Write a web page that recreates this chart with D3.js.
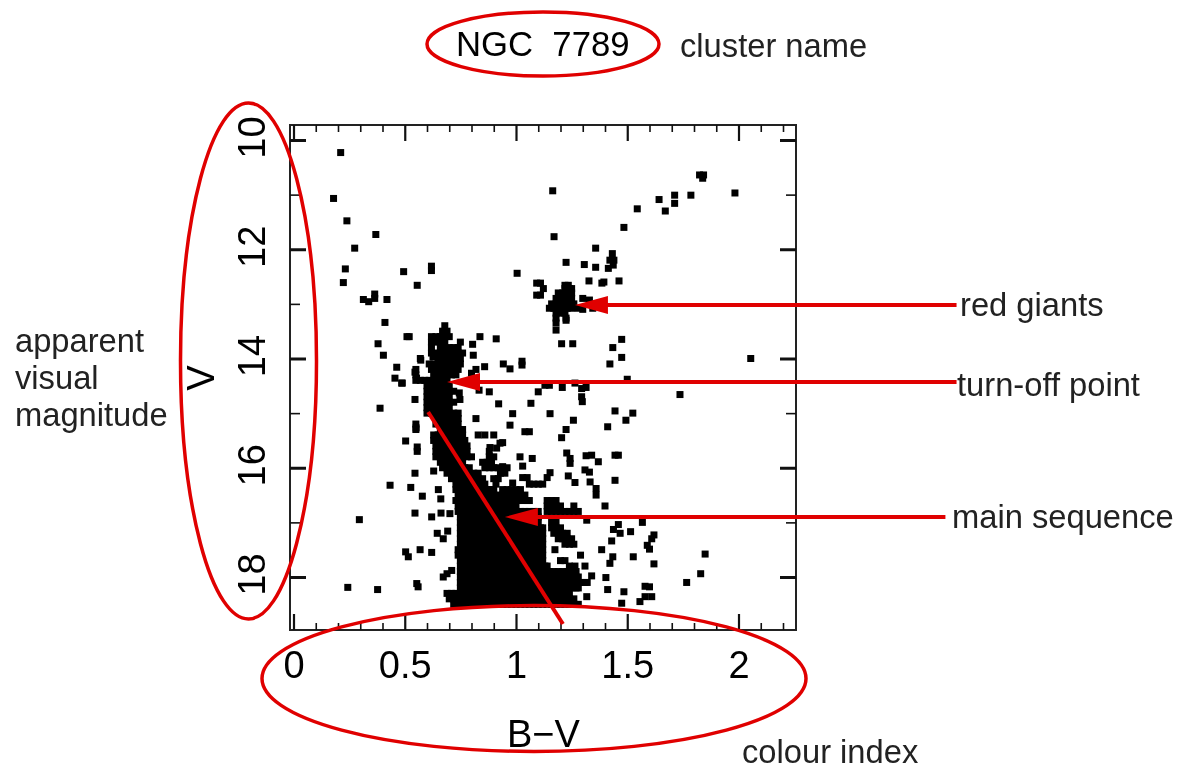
<!DOCTYPE html>
<html>
<head>
<meta charset="utf-8">
<script type="text/javascript" src="https://d3js.org/d3.v7.min.js"></script>
<style>
  body { margin: 0; padding: 0; background: white; }
  svg { display: block; filter: blur(0.45px); }
  text { font-family: "Liberation Sans", Arial, sans-serif; }
  .note { fill: #222; font-size: 32.7px; }
  .label { fill: #000; font-size: 38px; }
  .axis path { display: none; }
  .axis text { fill: #000; font-size: 38px; font-family: "Liberation Sans", Arial, sans-serif; }
</style>
</head>
<body>
<div id="chart"></div>
<script>
var xTicksMajor = [0, 0.5, 1, 1.5, 2];
var xTicksMinor = [0.1, 0.2, 0.3, 0.4, 0.6, 0.7, 0.8, 0.9, 1.1, 1.2, 1.3, 1.4, 1.6, 1.7, 1.8, 1.9, 2.1, 2.2];
var yTicksMajor = [10, 12, 14, 16, 18];
var yTicksMinor = [11, 13, 15, 17];

// scattered stars, [B-V, V], one at a time
var fieldStars = [
  [.212,10.23],[.18,11.07],[.24,11.48],[.37,11.73],[.275,11.98],[.233,12.36],[.224,12.61],[.495,12.41],[.62,12.39],[.62,12.31],
  [.556,12.66],[1.005,12.44],[.365,12.82],[.314,12.92],[.338,12.96],[.365,12.9],[.42,12.92],[.411,13.34],[.38,13.73],[.404,13.94],
  [.51,13.6],[.52,13.6],[.464,14.16],[.456,14.36],[.486,14.45],[.911,13.64],[.838,13.6],[.805,13.74],[.808,13.94],[.859,14.15],
  [.82,14.2],[.943,14.1],[.973,14.19],[1.027,14.12],[1.027,14.05],[.922,14.83],[.88,14.61],[.834,14.58],[.80,14.27],[.748,14.75],
  [.745,14.63],[.546,14.75],[.489,14.45],[.546,14.25],[.553,14.36],[.572,14.03],[.627,13.97],
  [.389,14.91],[.551,15.27],[.504,15.51],[.556,15.7],[.556,15.62],[.546,16.1],[.63,16.06],[.434,16.32],[.527,16.36],[.651,16.4],
  [.579,16.52],[.662,16.57],[.546,16.83],[.621,16.9],[.663,16.83],[.703,16.84],[.296,16.95],[.646,17.2],[.673,17.3],[.693,17.16],
  [.504,17.54],[.516,17.63],[.569,17.5],[.621,17.55],[.711,17.88],[.673,18],[.69,17.94],[.554,18.12],[.56,18.18],[.244,18.19],[.378,18.23],
  [1.165,10.93],[1.171,11.77],[1.358,11.98],[1.433,12.08],[1.422,12.2],[1.437,12.29],[1.415,12.35],[1.44,12.2],[1.225,12.24],
  [1.307,12.28],[1.358,12.33],[1.328,12.58],[1.395,12.6],[1.386,12.62],[1.463,12.58],[1.485,11.6],[1.545,11.26],[1.643,11.09],
  [1.671,11.3],[1.713,11.01],[1.713,11.16],[1.786,11.01],[1.843,10.64],[1.825,10.64],[1.839,10.7],[1.984,10.97],
  [1.093,12.62],[1.11,12.62],[1.123,12.72],[1.093,12.84],[1.11,12.84],[1.205,13.73],[1.255,13.73],[1.475,13.65],[1.435,13.8],[1.475,13.98],[1.422,14.1],
  [2.055,14.0],[1.30,12.9],[1.33,12.93],[1.345,13.08],[1.28,13.08],[1.30,13.1],
  [1.737,14.66],[1.5,14.38],[1.295,14.55],[1.295,14.7],[1.315,14.53],[1.208,14.53],[1.265,14.45],[1.13,14.49],[1.15,14.49],[1.1,14.61],
  [1.067,14.82],[1.298,14.79],[.985,15.01],[1.153,15.01],[1.445,14.96],[1.258,15.13],[.973,15.22],[1.04,15.34],[1.06,15.34],
  [1.412,15.25],[1.494,15.13],[1.525,15.0],[1.225,15.3],[1.205,15.45],[.94,15.54],[1.018,15.8],[1.03,15.97],[1.073,15.83],
  [1.228,15.73],[1.243,15.83],[1.243,15.92],[1.315,15.78],[1.34,15.77],[1.37,15.89],[1.46,15.77],[1.445,15.77],[1.31,16.04],[1.33,16.08],
  [.94,15.98],[1.153,16.09],[1.14,16.18],[1.235,16.15],[1.265,16.27],[1.333,16.26],[1.36,16.38],[1.36,16.5],[1.445,16.23],[.985,16.28],
  [1.03,16.18],[1.05,16.18],[1.06,16.3],[1.08,16.3],[1.10,16.3],[1.12,16.3],[.928,15.55],[.913,15.64],[.883,15.63],
  [1.40,16.7],[1.318,16.96],[1.568,17.0],[1.46,17.04],[1.438,17.13],[1.468,17.2],[1.43,17.34],[1.515,17.17],[1.62,17.23],[1.61,17.3],
  [1.60,17.49],[1.59,17.42],[1.85,17.58],[1.435,17.63],[1.422,17.75],[1.527,17.63],[1.62,17.76],[1.83,17.94],[1.767,18.1],[1.404,18.01],
  [1.412,18.23],[1.485,18.27],[1.58,18.17],[1.60,18.18],[1.61,18.36],[1.58,18.36],[1.557,18.45],[1.475,18.48],[1.318,18.36],[1.34,17.98],[1.385,17.5]
];

// crowded parts: one V row and the stars read along it
var rowV = [13.4, 13.5, 13.6, 13.7, 13.8, 13.9, 14.0, 14.1, 14.2, 14.3, 14.4, 14.5, 14.6, 14.7, 14.8, 14.9,
  15.0, 15.1, 15.2, 15.3, 15.4, 15.5, 15.6, 15.7, 15.8, 15.9, 16.0, 16.1, 16.2, 16.3, 16.4, 16.5, 16.6, 16.7, 16.8, 16.9,
  17.0, 17.1, 17.2, 17.3, 17.4, 17.5, 17.6, 17.7, 17.8, 17.9, 18.0, 18.1, 18.2, 18.3, 18.4, 18.5];
var rowBV = [
  [.68],
  [.67,.69],
  [.62,.64,.66,.68,.70],
  [.62,.64,.66,.68,.75],
  [.62,.66,.68,.70,.72,.74],
  [.62,.64,.66,.68,.70,.72,.74,.76],
  [.57,.65,.67,.69,.71,.73,.75],
  [.61,.63,.65,.67,.69,.71,.73,.75],
  [.55,.62,.64,.66,.68,.70,.72,.74],
  [.55,.63,.65,.67,.69,.71,.73],
  [.55,.57,.59,.61,.63,.65,.67,.69],
  [.60,.62,.64,.66,.68,.70],
  [.60,.62,.64,.66,.68,.70,.72],
  [.60,.62,.64,.66,.68,.70],
  [.60,.62,.64,.66,.68,.70,.72],
  [.60,.62,.64,.66,.68,.70],
  [.60,.62,.64,.66,.68,.70,.72,.74],
  [.64,.66,.68,.70,.72,.74,.82],
  [.55,.64,.66,.68,.70,.72,.74],
  [.55,.66,.68,.70,.72,.74,.76],
  [.63,.65,.67,.69,.71,.73,.75,.76,.83,.86,.90],
  [.63,.65,.67,.69,.71,.73,.75,.77],
  [.64,.66,.68,.70,.72,.74,.76,.78],
  [.64,.66,.68,.70,.72,.74,.76,.78,.88],
  [.64,.66,.68,.70,.72,.74,.76,.78,.80,.88,.90],
  [.66,.68,.70,.72,.74,.76,.85,.87,.89],
  [.67,.69,.71,.73,.75,.77,.79,.86,.88,.90,.92,.94,.96],
  [.69,.71,.73,.75,.77,.79,.81,.83,.93,.95],
  [.71,.73,.75,.77,.79,.81,.83,.85,.90,.92],
  [.73,.75,.77,.79,.81,.83,.85,.86,.91],
  [.73,.75,.77,.79,.81,.83,.85,.87,.89,.90,.94,.96,.98,1.00,1.02],
  [.74,.76,.78,.80,.82,.84,.86,.88,.90,.92,.94,.96,.98,1.00,1.02,1.04],
  [.73,.75,.77,.79,.81,.83,.85,.87,.89,.91,.93,.95,.97,.99,1.01,1.03,1.05,1.06,1.14,1.16,1.18],
  [.74,.76,.78,.80,.82,.84,.86,.88,.90,.92,.94,.96,.98,1.00,1.14,1.16,1.18,1.20,1.26],
  [.74,.76,.78,.80,.82,.84,.86,.88,.90,.92,.94,.96,.98,1.00,1.02,1.04,1.06,1.08,1.10,1.14,1.16,1.18,1.20,1.22,1.24,1.26,1.28],
  [.75,.77,.79,.81,.83,.85,.87,.89,.91,.93,.95,.97,.99,1.01,1.03,1.05,1.06,1.08,1.10],
  [.75,.77,.79,.81,.83,.85,.87,.89,.91,.93,.95,.97,.99,1.01,1.03,1.05,1.07,1.09,1.10,1.16,1.18],
  [.75,.77,.79,.81,.83,.85,.87,.89,.91,.93,.95,.97,.99,1.01,1.03,1.05,1.07,1.09,1.11,1.12,1.16,1.18,1.20],
  [.75,.77,.79,.81,.83,.85,.87,.89,.91,.93,.95,.97,.99,1.01,1.03,1.05,1.07,1.09,1.11,1.12,1.17,1.19,1.21,1.23],
  [.75,.77,.79,.81,.83,.85,.87,.89,.91,.93,.95,.97,.99,1.01,1.03,1.05,1.07,1.09,1.11,1.12,1.19,1.21,1.23,1.25],
  [.75,.77,.79,.81,.83,.85,.87,.89,.91,.93,.95,.97,.99,1.01,1.03,1.05,1.07,1.09,1.11,1.12,1.22,1.24,1.26],
  [.74,.76,.78,.80,.82,.84,.86,.88,.90,.92,.94,.96,.98,1.00,1.02,1.04,1.06,1.08,1.10,1.12,1.175],
  [.74,.76,.78,.80,.82,.84,.86,.88,.90,.92,.94,.96,.98,1.00,1.02,1.04,1.06,1.08,1.10,1.12,1.29],
  [.75,.77,.79,.81,.83,.85,.87,.89,.91,.93,.95,.97,.99,1.01,1.03,1.05,1.07,1.09,1.11,1.12,1.20,1.22],
  [.75,.77,.79,.81,.83,.85,.87,.89,.91,.93,.95,.97,.99,1.01,1.03,1.05,1.07,1.09,1.11,1.13,1.14,1.24,1.265,1.31],
  [.75,.77,.79,.81,.83,.85,.87,.89,.91,.93,.95,.97,.99,1.01,1.03,1.05,1.07,1.09,1.11,1.13,1.15,1.17,1.19,1.21,1.23,1.25,1.27],
  [.75,.77,.79,.81,.83,.85,.87,.89,.91,.93,.95,.97,.99,1.01,1.03,1.05,1.07,1.09,1.11,1.13,1.15,1.17,1.19,1.21,1.23,1.25,1.27,1.28],
  [.75,.77,.79,.81,.83,.85,.87,.89,.91,.93,.95,.97,.99,1.01,1.03,1.05,1.07,1.09,1.11,1.13,1.15,1.17,1.19,1.21,1.23,1.25,1.27,1.29,1.31,1.32],
  [.75,.77,.79,.81,.83,.85,.87,.89,.91,.93,.95,.97,.99,1.01,1.03,1.05,1.07,1.09,1.11,1.13,1.15,1.17,1.19,1.21,1.23,1.25,1.27,1.28],
  [.69,.71,.73,.75,.77,.79,.81,.83,.85,.87,.89,.91,.93,.95,.97,.99,1.01,1.03,1.05,1.07,1.09,1.11,1.13,1.15,1.17,1.19,1.21,1.23,1.24],
  [.70,.72,.74,.76,.78,.80,.82,.84,.86,.88,.90,.92,.94,.96,.98,1.00,1.02,1.04,1.06,1.08,1.10,1.12,1.14,1.16,1.18,1.20,1.22,1.24,1.26],
  [.72,.74,.76,.78,.80,.82,.84,.86,.88,.90,.92,.94,.96,.98,1.00,1.02,1.04,1.06,1.08,1.10,1.12,1.14,1.16,1.18,1.20,1.22,1.24,1.26,1.28]
];

// red giant clump, same idea
var clumpV = [12.66, 12.72, 12.8, 12.9, 13.0, 13.08, 13.17, 13.26, 13.3, 13.35, 13.48];
var clumpBV = [
  [1.22,1.235],
  [1.22,1.24,1.25],
  [1.19,1.21,1.23,1.25],
  [1.18,1.20,1.22,1.24,1.25],
  [1.16,1.18,1.20,1.22,1.24,1.26],
  [1.15,1.17,1.19,1.21,1.23,1.25],
  [1.18,1.20,1.22],
  [1.18,1.225],
  [1.225],
  [1.18],
  [1.18]
];

// annotation arrows, in chart units: name, tip B-V, tail B-V, V
var arrowNames = ["red giants", "turn-off point", "main sequence"];
var arrowTip = [1.265, .69, .95];
var arrowTail = [2.98, 2.98, 2.93];
var arrowV = [13.02, 14.43, 16.9];
var seqLineBV = [.605, 1.211];
var seqLineV = [14.98, 18.86];

var width = 1179, height = 771;
var red = "#e00000";

var x = d3.scaleLinear().domain([0, 2]).range([293.5, 738.5]);
var y = d3.scaleLinear().domain([10, 18]).range([140, 577]);

var svg = d3.select("#chart").append("svg")
    .attr("width", width)
    .attr("height", height);

var stars = fieldStars.slice();
rowV.forEach(function(v, i) {
  rowBV[i].forEach(function(b) { stars.push([b, v]); });
});
clumpV.forEach(function(v, i) {
  clumpBV[i].forEach(function(b) { stars.push([b, v]); });
});

var starSize = 7;
svg.append("g").selectAll("rect")
    .data(stars)
    .enter().append("rect")
    .attr("x", function(d) { return x(d[0]) - starSize / 2; })
    .attr("y", function(d) { return y(d[1]) - starSize / 2; })
    .attr("width", starSize)
    .attr("height", starSize)
    .attr("fill", "#000");

// plot box
var left = 290, right = 796, top_ = 125, bottom = 630;
svg.append("rect")
    .attr("x", left).attr("y", top_)
    .attr("width", right - left).attr("height", bottom - top_)
    .attr("fill", "none").attr("stroke", "#222").attr("stroke-width", 2);

function drawAxis(axis, tx, ty, sw) {
  var g = svg.append("g").attr("class", "axis").attr("transform", "translate(" + tx + "," + ty + ")").call(axis);
  g.selectAll("line").attr("stroke", "#111").attr("stroke-width", sw);
  return g;
}

// x ticks, bottom and top
drawAxis(d3.axisBottom(x).tickValues(xTicksMinor).tickSize(-7).tickFormat(""), 0, bottom, 1.6);
drawAxis(d3.axisTop(x).tickValues(xTicksMinor).tickSize(-7).tickFormat(""), 0, top_, 1.6);
var xLabels = drawAxis(d3.axisBottom(x).tickValues(xTicksMajor).tickSize(-16).tickPadding(21).tickFormat(d3.format("")), 0, bottom, 2.2);
drawAxis(d3.axisTop(x).tickValues(xTicksMajor).tickSize(-16).tickFormat(""), 0, top_, 2.2);

// y ticks, labels turned on their side
drawAxis(d3.axisLeft(y).tickValues(yTicksMinor).tickSize(-10).tickFormat(""), left, 0, 1.6);
drawAxis(d3.axisRight(y).tickValues(yTicksMinor).tickSize(-10).tickFormat(""), right, 0, 1.6);
var yLabels = drawAxis(d3.axisLeft(y).tickValues(yTicksMajor).tickSize(-16).tickFormat(d3.format("")), left, 0, 3);
drawAxis(d3.axisRight(y).tickValues(yTicksMajor).tickSize(-16).tickFormat(""), right, 0, 3);
yLabels.selectAll("text")
    .attr("x", null).attr("dy", null)
    .attr("text-anchor", "middle")
    .attr("transform", "translate(-25,-3) rotate(-90)");

// arrows and the line along the main sequence
var headLength = 33, headHalf = 9;
arrowNames.forEach(function(name, i) {
  var yy = y(arrowV[i]), tip = x(arrowTip[i]), tail = x(arrowTail[i]);
  svg.append("line")
      .attr("x1", tip + 10).attr("x2", tail)
      .attr("y1", yy).attr("y2", yy)
      .attr("stroke", red).attr("stroke-width", 4);
  svg.append("path")
      .attr("d", d3.line()([[tip, yy], [tip + headLength, yy - headHalf], [tip + headLength, yy + headHalf]]) + "Z")
      .attr("fill", red);
});
svg.append("line")
    .attr("x1", x(seqLineBV[0])).attr("y1", y(seqLineV[0]))
    .attr("x2", x(seqLineBV[1])).attr("y2", y(seqLineV[1]))
    .attr("stroke", red).attr("stroke-width", 4);

// red rings
[[543, 44, 116, 32], [248.5, 361, 68, 258], [534, 678.5, 272, 73]].forEach(function(e) {
  svg.append("ellipse")
      .attr("cx", e[0]).attr("cy", e[1]).attr("rx", e[2]).attr("ry", e[3])
      .attr("fill", "none").attr("stroke", red).attr("stroke-width", 3.5);
});

// text
svg.append("text").attr("class", "label").attr("x", 456).attr("y", 56).style("font-size", "34.7px").style("white-space", "pre").text("NGC  7789");
svg.append("text").attr("class", "label").attr("x", 507).attr("y", 747).text("B\u2212V");
svg.append("text").attr("class", "label").attr("text-anchor", "middle")
    .attr("transform", "translate(214,378) rotate(-90)").text("V");

svg.append("text").attr("class", "note").attr("x", 680).attr("y", 57).text("cluster name");
svg.append("text").attr("class", "note").attr("x", 742).attr("y", 763).text("colour index");
svg.append("text").attr("class", "note").attr("x", 960).attr("y", 316).text(arrowNames[0]);
svg.append("text").attr("class", "note").attr("x", 957).attr("y", 396).text(arrowNames[1]);
svg.append("text").attr("class", "note").attr("x", 952).attr("y", 528).text(arrowNames[2]);
["apparent", "visual", "magnitude"].forEach(function(t, i) {
  svg.append("text").attr("class", "note").attr("x", 15).attr("y", 352 + i * 37).text(t);
});
</script>
</body>
</html>
